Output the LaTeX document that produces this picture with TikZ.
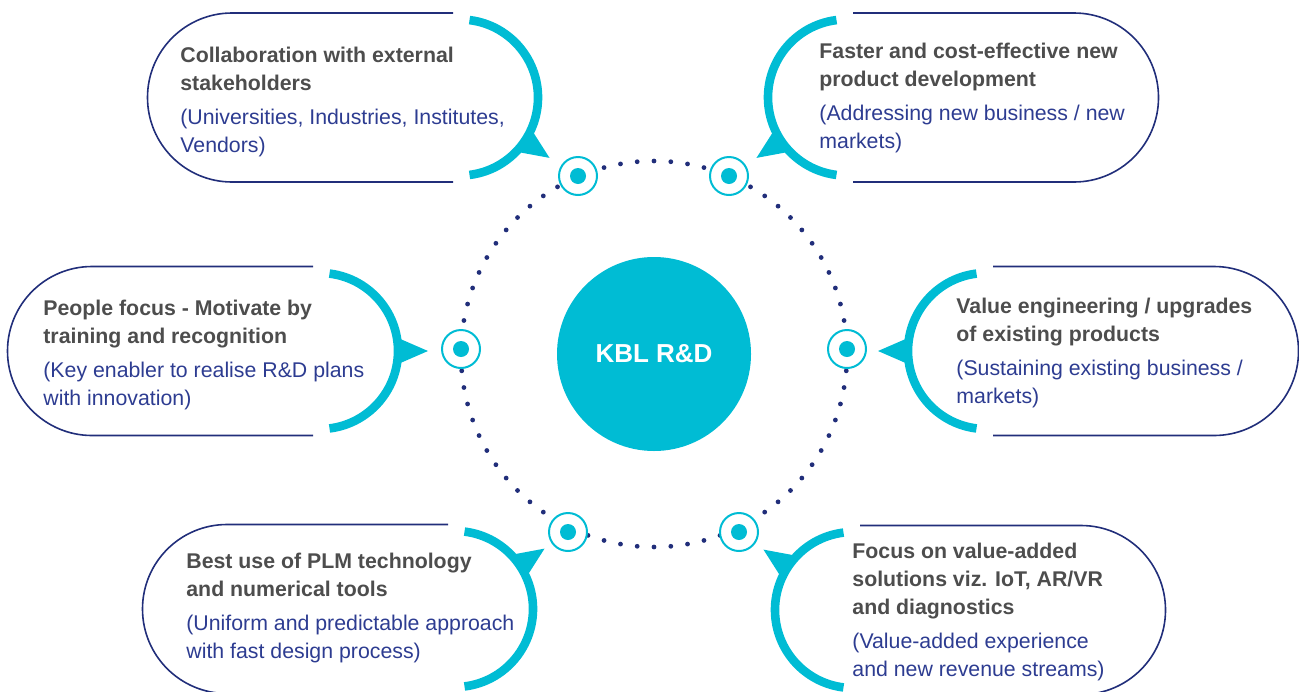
\documentclass[tikz,border=0pt]{standalone}
\usepackage{fontspec}
\setmainfont{Liberation Sans}
\usetikzlibrary{positioning}
\definecolor{kblcyan}{RGB}{0,188,212}
\definecolor{kblnavy}{RGB}{33,46,122}
\definecolor{kblblue}{RGB}{45,60,145}
\definecolor{kblgray}{RGB}{77,77,77}
\newcommand{\hd}[1]{{\bfseries\color{kblgray}#1}}
\newcommand{\nt}[1]{{\color{kblblue}#1}}
\tikzset{
  outline/.style={draw=kblnavy, line width=0.8pt},
  cyanarc/.style={draw=kblcyan, line width=4.3pt},
  pointer/.style={fill=kblcyan},
  txt/.style={anchor=north west, inner sep=0pt, align=left,
    font=\fontsize{10.65}{14}\selectfont},
  marker/.style={circle, draw=kblcyan, fill=white, line width=1pt,
    minimum size=19pt, inner sep=0pt,
    path picture={\fill[kblcyan] (path picture bounding box.center) circle (4pt);}},
  hub/.style={circle, fill=kblcyan, minimum size=97pt, inner sep=0pt,
    text=white, font=\bfseries\fontsize{13}{15}\selectfont}
}
\begin{document}
\begin{tikzpicture}[x=0.5pt, y=-0.5pt]
  \useasboundingbox (0,0) rectangle (1299,691);

  % dotted ring
  \foreach \a in {0,5,...,355}
    \fill[kblnavy] (654,354) ++(\a:193) circle (2.4);

  % hub
  \node[hub] (hub) at (654,354) {KBL R\&D};

  % markers on the ring
  \node[marker] (m1) at (578,176) {};
  \node[marker] (m2) at (729,176) {};
  \node[marker] (m3) at (461,349) {};
  \node[marker] (m4) at (847,349) {};
  \node[marker] (m5) at (568,532) {};
  \node[marker] (m6) at (739,532) {};

  % top left
  \begin{scope}[shift={(460,97.5)}]
    \draw[outline] (-7,-84.5) -- (-228,-84.5) arc[start angle=270, end angle=90, radius=84.5] -- (-7,84.5);
    \draw[cyanarc] (-83:78) arc[start angle=-83, end angle=83, radius=78];
    \fill[pointer] (24:78) -- (34:108) -- (44:78) -- cycle;
  \end{scope}
  % top right
  \begin{scope}[shift={(846,97.5)}]
    \draw[outline] (7,-84.5) -- (228,-84.5) arc[start angle=-90, end angle=90, radius=84.5] -- (7,84.5);
    \draw[cyanarc] (263:78) arc[start angle=263, end angle=97, radius=78];
    \fill[pointer] (136:78) -- (146:108) -- (156:78) -- cycle;
  \end{scope}
  % middle left
  \begin{scope}[shift={(320,351)}]
    \draw[outline] (-7,-84.5) -- (-228,-84.5) arc[start angle=270, end angle=90, radius=84.5] -- (-7,84.5);
    \draw[cyanarc] (-83:78) arc[start angle=-83, end angle=83, radius=78];
    \fill[pointer] (-10:78) -- (0:108) -- (10:78) -- cycle;
  \end{scope}
  % middle right
  \begin{scope}[shift={(986,351)}]
    \draw[outline] (7,-84.5) -- (228,-84.5) arc[start angle=-90, end angle=90, radius=84.5] -- (7,84.5);
    \draw[cyanarc] (263:78) arc[start angle=263, end angle=97, radius=78];
    \fill[pointer] (170:78) -- (180:108) -- (190:78) -- cycle;
  \end{scope}
  % bottom left
  \begin{scope}[shift={(455,609)}]
    \draw[outline] (-7,-84.5) -- (-228,-84.5) arc[start angle=270, end angle=90, radius=84.5] -- (-7,84.5);
    \draw[cyanarc] (-83:78) arc[start angle=-83, end angle=83, radius=78];
    \fill[pointer] (-44:78) -- (-34:108) -- (-24:78) -- cycle;
  \end{scope}
  % bottom right
  \begin{scope}[shift={(853,610)}]
    \draw[outline] (7,-84.5) -- (228,-84.5) arc[start angle=-90, end angle=90, radius=84.5] -- (7,84.5);
    \draw[cyanarc] (263:78) arc[start angle=263, end angle=97, radius=78];
    \fill[pointer] (204:78) -- (214:108) -- (224:78) -- cycle;
  \end{scope}

  % texts
  \node[txt] (collab) at (180,47) {\hd{Collaboration with external}\\\hd{stakeholders}\\[3pt]%
    \nt{(Universities, Industries, Institutes,}\\\nt{Vendors)}};
  \node[txt] (faster) at (819,43) {\hd{Faster and cost-effective new}\\\hd{product development}\\[3pt]%
    \nt{(Addressing new business / new}\\\nt{markets)}};
  \node[txt] (people) at (43,300) {\hd{People focus - Motivate by}\\\hd{training and recognition}\\[3pt]%
    \nt{(Key enabler to realise R\&D plans}\\\nt{with innovation)}};
  \node[txt] (value) at (956,298) {\hd{Value engineering / upgrades}\\\hd{of existing products}\\[3pt]%
    \nt{(Sustaining existing business /}\\\nt{markets)}};
  \node[txt] (plm) at (186,553) {\hd{Best use of PLM technology}\\\hd{and numerical tools}\\[3pt]%
    \nt{(Uniform and predictable approach}\\\nt{with fast design process)}};
  \node[txt] (focus) at (852,543) {\hd{Focus on value-added}\\\hd{solutions viz. IoT, AR/VR}\\\hd{and diagnostics}\\[3pt]%
    \nt{(Value-added experience}\\\nt{and new revenue streams)}};
\end{tikzpicture}
\end{document}
